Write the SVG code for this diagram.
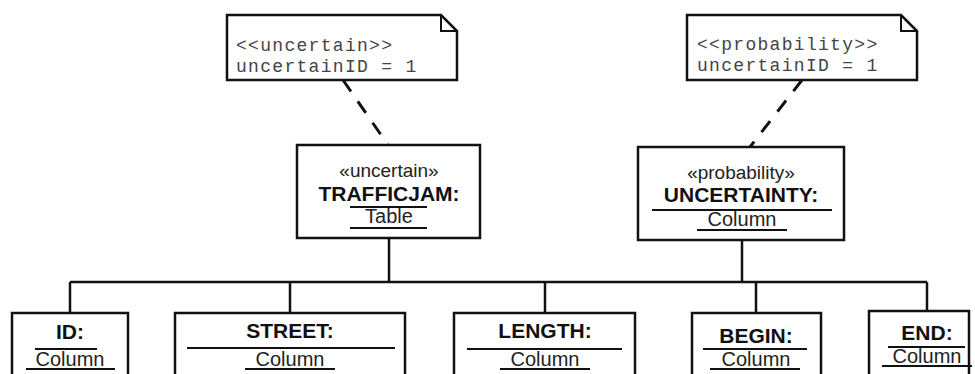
<svg xmlns="http://www.w3.org/2000/svg" width="975" height="374" viewBox="0 0 975 374">
<style>
.box{fill:#fff;stroke:#111;stroke-width:2.5}
.ln{stroke:#111;stroke-width:2;fill:none}
.conn{stroke:#111;stroke-width:2.5;fill:none}
.dash{stroke:#111;stroke-width:3;fill:none;stroke-dasharray:14 12}
.note{font-family:"Liberation Mono",monospace;font-size:18px;letter-spacing:1.3px;fill:#444}
.st{font-family:"Liberation Sans",Arial,sans-serif;font-size:19px;fill:#222;text-anchor:middle}
.nm{font-family:"Liberation Sans",Arial,sans-serif;font-size:21px;font-weight:bold;fill:#111;text-anchor:middle}
.ty{font-family:"Liberation Sans",Arial,sans-serif;font-size:20px;fill:#222;text-anchor:middle}
</style>
<rect width="975" height="374" fill="#fff"/>
<g id="connectors">
<path class="dash" d="M343 80 L388 145"/>
<path class="dash" d="M802 80 L750 147"/>
<path class="conn" d="M389 238 V282 M742 240 V282 M70 282 H927 M70 282 V313 M290 282 V313 M545 282 V313 M756 282 V313 M927 282 V311"/>
</g>
<g id="note1">
<path class="box" d="M227 15 H441 L457 31 V80 H227 Z"/>
<path class="ln" d="M441 15 V31 H457"/>
<text class="note" x="236" y="51">&lt;&lt;uncertain&gt;&gt;</text>
<text class="note" x="236" y="72">uncertainID = 1</text>
</g>
<g id="note2">
<path class="box" d="M687 15 H901 L917 31 V80 H687 Z"/>
<path class="ln" d="M901 15 V31 H917"/>
<text class="note" x="697" y="50">&lt;&lt;probability&gt;&gt;</text>
<text class="note" x="697" y="71">uncertainID = 1</text>
</g>
<g id="trafficjam">
<rect class="box" x="297" y="145" width="183" height="93"/>
<text class="st" x="389" y="177">«uncertain»</text>
<text class="nm" x="389" y="201">TRAFFICJAM:</text>
<path class="ln" d="M350 207 H427 M350 228 H427"/>
<text class="ty" x="389" y="223">Table</text>
</g>
<g id="uncertainty">
<rect class="box" x="638" y="147" width="206" height="93"/>
<text class="st" x="741" y="179">«probability»</text>
<text class="nm" x="741" y="202">UNCERTAINTY:</text>
<path class="ln" d="M652 210 H832 M697 230 H787"/>
<text class="ty" x="742" y="226">Column</text>
</g>
<g id="id">
<rect class="box" x="12" y="313" width="116" height="70"/>
<text class="nm" x="70" y="339">ID:</text>
<path class="ln" d="M35 349 H97 M26 369 H115"/>
<text class="ty" x="70" y="366">Column</text>
</g>
<g id="street">
<rect class="box" x="175" y="313" width="230" height="70"/>
<text class="nm" x="290" y="338">STREET:</text>
<path class="ln" d="M187 348 H395 M245 369 H335"/>
<text class="ty" x="290" y="366">Column</text>
</g>
<g id="length">
<rect class="box" x="454" y="313" width="181" height="70"/>
<text class="nm" x="545" y="338">LENGTH:</text>
<path class="ln" d="M467 349 H622 M500 369 H590"/>
<text class="ty" x="545" y="366">Column</text>
</g>
<g id="begin">
<rect class="box" x="692" y="313" width="129" height="70"/>
<text class="nm" x="756" y="343">BEGIN:</text>
<path class="ln" d="M703 349 H807 M710 369 H800"/>
<text class="ty" x="756" y="366">Column</text>
</g>
<g id="end">
<rect class="box" x="869" y="311" width="100" height="72"/>
<text class="nm" x="927" y="340">END:</text>
<path class="ln" d="M888 347 H965 M882 366 H972"/>
<text class="ty" x="927" y="363">Column</text>
</g>
</svg>
